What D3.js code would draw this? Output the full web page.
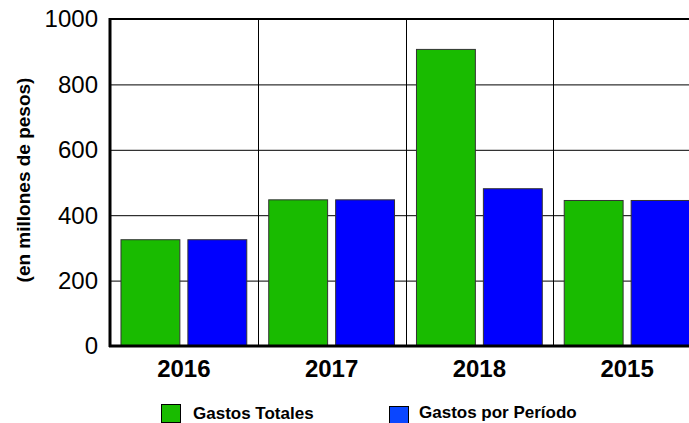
<!DOCTYPE html>
<html>
<head>
<meta charset="utf-8">
<script src="https://cdn.jsdelivr.net/npm/d3@7"></script>
<style>
  body { margin: 0; background: #fff; }
  svg { display: block; font-family: "Liberation Sans", Arial, sans-serif; }
</style>
</head>
<body>
<svg id="chart" width="689" height="423"></svg>
<script>

// data
var categories = ["2016", "2017", "2018", "2015"];
var seriesNames = ["Gastos Totales", "Gastos por Período"];
var gastosTotales = [325, 447, 907, 445];
var gastosPeriodo = [325, 447, 481, 445];
var yTicks = [0, 200, 400, 600, 800, 1000];

var colors = ["#19bb00", "#0000ff"];
var legendColors = ["#19bb00", "#0a46ff"];

var svg = d3.select("svg#chart"),
    margin = {left: 110, top: 19, right: -12, bottom: 77},
    width = +svg.attr("width") - margin.left - margin.right,
    height = +svg.attr("height") - margin.top - margin.bottom;

var g = svg.append("g")
    .attr("transform", "translate(" + margin.left + "," + margin.top + ")");

var x = d3.scaleBand()
    .domain(categories)
    .range([0, width]);

var xInner = d3.scaleBand()
    .domain(seriesNames)
    .range([0, x.bandwidth()])
    .paddingInner(0.12)
    .paddingOuter(0.164);

var y = d3.scaleLinear()
    .domain([0, 1000])
    .range([height, 0]);

// horizontal grid
g.append("g")
    .attr("class", "grid")
  .selectAll("line")
  .data(yTicks.filter(function(d) { return d > 0 && d < 1000; }))
  .enter().append("line")
    .attr("x1", 0)
    .attr("x2", width)
    .attr("y1", function(d) { return y(d) + 0.5; })
    .attr("y2", function(d) { return y(d) + 0.5; })
    .attr("stroke", "#000")
    .attr("stroke-width", 1);

// vertical grid between categories
g.append("g")
    .attr("class", "vgrid")
  .selectAll("line")
  .data(categories.slice(1))
  .enter().append("line")
    .attr("x1", function(d) { return Math.round(x(d)) + 0.5; })
    .attr("x2", function(d) { return Math.round(x(d)) + 0.5; })
    .attr("y1", 0)
    .attr("y2", height)
    .attr("stroke", "#000")
    .attr("stroke-width", 1);

// top border
g.append("line")
    .attr("x1", 0)
    .attr("x2", width)
    .attr("y1", y(1000))
    .attr("y2", y(1000))
    .attr("stroke", "#000")
    .attr("stroke-width", 2);

// bars
var rows = categories.map(function(c, i) {
  return {cat: c, values: [gastosTotales[i], gastosPeriodo[i]]};
});

var group = g.selectAll(".cat")
  .data(rows)
  .enter().append("g")
    .attr("class", "cat")
    .attr("transform", function(d) { return "translate(" + x(d.cat) + ",0)"; });

group.selectAll("rect")
  .data(function(d) { return d.values.map(function(v, i) { return {name: seriesNames[i], v: v, i: i}; }); })
  .enter().append("rect")
    .attr("x", function(d) { return xInner(d.name); })
    .attr("y", function(d) { return y(d.v); })
    .attr("width", xInner.bandwidth())
    .attr("height", function(d) { return height - y(d.v); })
    .attr("fill", function(d) { return colors[d.i]; })
    .attr("stroke", "#333")
    .attr("stroke-width", 1);

// axes
g.append("line")
    .attr("x1", 0).attr("x2", 0)
    .attr("y1", -1).attr("y2", height + 1)
    .attr("stroke", "#000")
    .attr("stroke-width", 3);

g.append("line")
    .attr("x1", -1).attr("x2", width)
    .attr("y1", height).attr("y2", height)
    .attr("stroke", "#000")
    .attr("stroke-width", 3);

g.append("g")
    .attr("class", "yticks")
  .selectAll("text")
  .data(yTicks)
  .enter().append("text")
    .attr("x", -12)
    .attr("y", function(d) { return y(d); })
    .attr("dy", "0.35em")
    .attr("text-anchor", "end")
    .attr("font-size", "24px")
    .attr("fill", "#000")
    .text(function(d) { return d; });

g.append("g")
    .attr("class", "xticks")
  .selectAll("text")
  .data(categories)
  .enter().append("text")
    .attr("x", function(d) { return x(d) + x.bandwidth() / 2; })
    .attr("y", height + 31)
    .attr("text-anchor", "middle")
    .attr("font-size", "24px")
    .attr("font-weight", "bold")
    .attr("fill", "#000")
    .text(function(d) { return d; });

// y title
svg.append("text")
    .attr("transform", "translate(30,180) rotate(-90)")
    .attr("text-anchor", "middle")
    .attr("font-size", "19px")
    .attr("font-weight", "bold")
    .attr("fill", "#000")
    .text("(en millones de pesos)");

// legend
var legendX = [161, 389];
var legendY = [404, 406];
var legend = svg.selectAll(".legend")
  .data(seriesNames)
  .enter().append("g")
    .attr("class", "legend")
    .attr("transform", function(d, i) { return "translate(" + legendX[i] + "," + legendY[i] + ")"; });

legend.append("rect")
    .attr("x", 0.5)
    .attr("y", 0.5)
    .attr("width", 19)
    .attr("height", 18)
    .attr("fill", function(d, i) { return legendColors[i]; })
    .attr("stroke", "#000")
    .attr("stroke-width", 1);

legend.append("text")
    .attr("x", function(d, i) { return i == 0 ? 32 : 30; })
    .attr("y", function(d, i) { return i == 0 ? 15 : 12; })
    .attr("font-size", "17px")
    .attr("font-weight", "bold")
    .attr("fill", "#000")
    .text(function(d) { return d; });

</script>
</body>
</html>
